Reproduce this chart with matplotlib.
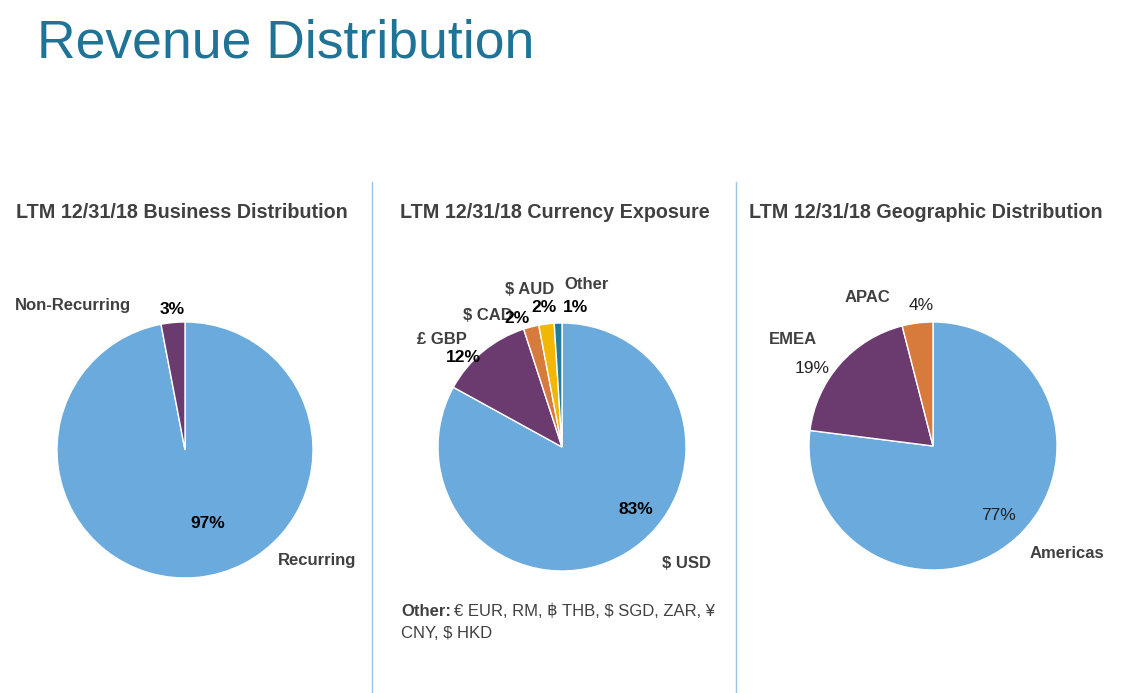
import matplotlib.pyplot as plt
from matplotlib.lines import Line2D

plt.rcParams['font.family'] = ['Liberation Sans', 'DejaVu Sans']

W, H = 1138, 693

# data
business_labels = ['Recurring', 'Non-Recurring']
business_values = [97, 3]
currency_labels = ['$ USD', '£ GBP', '$ CAD', '$ AUD', 'Other']
currency_values = [83, 12, 2, 2, 1]
geo_labels = ['Americas', 'EMEA', 'APAC']
geo_values = [77, 19, 4]

subtitles = ['LTM 12/31/18 Business Distribution',
             'LTM 12/31/18 Currency Exposure',
             'LTM 12/31/18 Geographic Distribution']

BLUE = '#6AAADC'
PURPLE = '#6B3A6E'
ORANGE = '#D67B3C'
YELLOW = '#F2B705'
TEAL = '#1F7C9A'
TXT = '#404040'


def px(x, y):
    # pixel (from top-left) -> figure fraction
    return x / W, 1 - y / H


def pie_axes(fig, cx, cy, r):
    return fig.add_axes([(cx - r) / W, (H - cy - r) / H, 2 * r / W, 2 * r / H])


def finish(ax):
    ax.set_xlim(-1, 1)
    ax.set_ylim(-1, 1)
    ax.axis('off')


def label(fig, x, y, s, bold=True, color=TXT, ha='center', size=12):
    fig.text(*px(x, y), s, ha=ha, va='center', fontsize=size,
             fontweight='bold' if bold else 'normal', color=color)


fig = plt.figure(figsize=(W / 100, H / 100), dpi=100)

fig.text(*px(37, 44), 'Revenue Distribution', fontsize=38.5, color='#1F7396',
         ha='left', va='center')

# separators
for x in (372, 736):
    fig.add_artist(Line2D([x / W, x / W], [1 - 182 / H, 0], color='#9CC3E5', lw=1))

for cx, s in zip((182, 555, 926), subtitles):
    label(fig, cx, 212, s, size=14.2)

wp = dict(linewidth=1, edgecolor='white')

# business pie
ax1 = pie_axes(fig, 185, 450, 128)
ax1.pie(business_values, colors=[BLUE, PURPLE], startangle=90, counterclock=False,
        radius=1, wedgeprops=wp)
finish(ax1)
label(fig, 15, 306, business_labels[1], ha='left')
label(fig, 172, 310, '%d%%' % business_values[1], color='black', size=12.5)
label(fig, 208, 523, '%d%%' % business_values[0], color='black', size=12.5)
label(fig, 278, 560, business_labels[0], ha='left')

# currency pie
ax2 = pie_axes(fig, 562, 447, 124)
ax2.pie(currency_values, colors=[BLUE, PURPLE, ORANGE, YELLOW, TEAL], startangle=90,
        counterclock=False, radius=1, wedgeprops=wp)
finish(ax2)
label(fig, 587, 285, currency_labels[4])
label(fig, 575, 307, '%d%%' % currency_values[4], color='black', size=12.5)
label(fig, 530, 290, currency_labels[3])
label(fig, 544, 307, '%d%%' % currency_values[3], color='black', size=12.5)
label(fig, 488, 315, currency_labels[2])
label(fig, 517, 319, '%d%%' % currency_values[2], color='black', size=12.5)
label(fig, 442, 339, currency_labels[1])
label(fig, 463, 358, '%d%%' % currency_values[1], color='black', size=12.5)
label(fig, 636, 510, '%d%%' % currency_values[0], color='black', size=12.5)
label(fig, 686, 564, currency_labels[0])

label(fig, 401, 611, 'Other:', ha='left', size=12)
fig.text(*px(454, 611), '€ EUR, RM, ฿ THB, $ SGD, ZAR, ¥', ha='left', va='center',
         fontsize=12, color=TXT, family=['Liberation Sans', 'DejaVu Sans'])
fig.text(*px(401, 633), 'CNY, $ HKD', ha='left', va='center', fontsize=12, color=TXT)

# geographic pie
ax3 = pie_axes(fig, 933, 446, 124)
ax3.pie(geo_values, colors=[BLUE, PURPLE, ORANGE], startangle=90, counterclock=False,
        radius=1, wedgeprops=wp)
finish(ax3)
label(fig, 867, 298, geo_labels[2])
label(fig, 921, 306, '%d%%' % geo_values[2], bold=False, color='#222222', size=12.5)
label(fig, 793, 340, geo_labels[1])
label(fig, 812, 369, '%d%%' % geo_values[1], bold=False, color='#222222', size=12.5)
label(fig, 998, 515, '%d%%' % geo_values[0], bold=False, color='#222222', size=12.5)
label(fig, 1067, 553, geo_labels[0])

fig.savefig('out.png', dpi=100)
